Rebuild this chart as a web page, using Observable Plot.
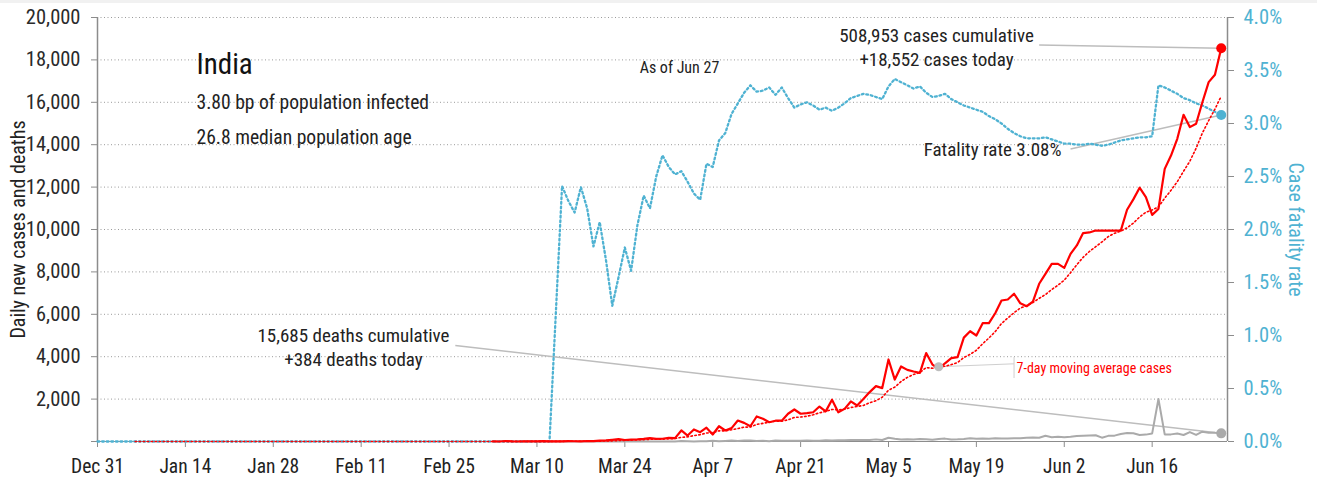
<!DOCTYPE html>
<html>
<head>
<meta charset="utf-8">
<script src="https://cdn.jsdelivr.net/npm/d3@7"></script>
<script src="https://cdn.jsdelivr.net/npm/@observablehq/plot@0.6"></script>
<style>
  body { margin: 0; background: #fff; }
  #strip { height: 3px; background: #f1f1f1; }
  #chart svg { display: block; }
</style>
</head>
<body>
<div id="strip"></div>
<div id="chart"></div>
<script>
// ---- data -------------------------------------------------------------
const startDate = "2019-12-31";
const endDate = "2020-06-28";

const xTickDates = ["2019-12-31", "2020-01-14", "2020-01-28", "2020-02-11", "2020-02-25",
  "2020-03-10", "2020-03-24", "2020-04-07", "2020-04-21", "2020-05-05", "2020-05-19",
  "2020-06-02", "2020-06-16"];
const yTicksLeft = [0, 2000, 4000, 6000, 8000, 10000, 12000, 14000, 16000, 18000, 20000];
const yTicksRight = [0, 0.5, 1.0, 1.5, 2.0, 2.5, 3.0, 3.5, 4.0]; // percent

// daily new cases, one value per day from Dec 31 (null = no report)
const dailyCases = [
  null, null, null, null, null, null, null, null, null, null,
  null, null, null, null, null, null, null, null, null, null,
  null, null, null, null, null, null, null, null, null, null,
  null, null, null, null, null, null, null, null, null, null,
  null, null, null, null, null, null, null, null, null, null,
  null, null, null, null, null, null, null, null, null, null,
  null, null, null, 2, 0, 23, 2, 1, 3, 5,
  4, 13, 6, 11, 9, 20, 11, 6, 23, 14,
  38, 50, 80, 110, 70, 90, 100, 120, 160, 120,
  130, 170, 160, 520, 280, 570, 440, 650, 330, 720,
  520, 630, 990, 880, 720, 1180, 1070, 910, 980, 980,
  1310, 1510, 1310, 1340, 1380, 1650, 1420, 1970, 1380, 1540,
  1890, 1700, 2010, 2330, 2610, 2520, 3870, 2920, 3540, 3380,
  3300, 3240, 4170, 3630, 3430, 3690, 3930, 3980, 4900, 5200,
  5000, 5580, 5580, 6050, 6650, 6700, 6970, 6520, 6380, 6600,
  7440, 7910, 8380, 8380, 8190, 8850, 9250, 9830, 9860, 9950,
  9950, 9950, 9950, 9950, 10930, 11420, 11970, 11530, 10690, 10970,
  12860, 13490, 14280, 15410, 14830, 14990, 16000, 16950, 17300, 18552
];

// daily deaths, same days
const dailyDeaths = [
  null, null, null, null, null, null, null, null, null, null,
  null, null, null, null, null, null, null, null, null, null,
  null, null, null, null, null, null, null, null, null, null,
  null, null, null, null, null, null, null, null, null, null,
  null, null, null, null, null, null, null, null, null, null,
  null, null, null, null, null, null, null, null, null, null,
  null, null, null, null, null, null, null, null, null, null,
  null, null, 1, 0, 1, 0, 0, 0, 1, 0,
  1, 1, 0, 3, 3, 0, 2, 8, 0, 4,
  3, 5, 3, 23, 14, 0, 14, 13, 37, 14,
  28, 48, 20, 42, 43, 27, 35, 12, 43, 38,
  35, 38, 33, 53, 36, 40, 59, 45, 56, 58,
  69, 71, 75, 69, 100, 68, 175, 127, 92, 104,
  96, 116, 111, 82, 121, 136, 98, 104, 118, 154,
  131, 146, 133, 148, 137, 147, 157, 148, 172, 190,
  177, 269, 205, 223, 200, 221, 259, 275, 286, 297,
  180, 266, 277, 352, 396, 386, 311, 325, 380, 2003,
  334, 336, 375, 306, 445, 312, 465, 418, 407, 384
];

// case fatality rate, percent
const fatalityRate = [
  0, 0, 0, 0, 0, 0, 0, 0, 0, 0,
  0, 0, 0, 0, 0, 0, 0, 0, 0, 0,
  0, 0, 0, 0, 0, 0, 0, 0, 0, 0,
  0, 0, 0, 0, 0, 0, 0, 0, 0, 0,
  0, 0, 0, 0, 0, 0, 0, 0, 0, 0,
  0, 0, 0, 0, 0, 0, 0, 0, 0, 0,
  0, 0, 0, 0, 0, 0, 0, 0, 0, 0,
  0, 0, 0, 1.2, 2.41, 2.27, 2.16, 2.40, 2.20, 1.84,
  2.07, 1.71, 1.28, 1.55, 1.83, 1.61, 2.04, 2.32, 2.20, 2.50,
  2.70, 2.59, 2.52, 2.55, 2.45, 2.34, 2.28, 2.62, 2.59, 2.84,
  2.91, 3.09, 3.19, 3.29, 3.36, 3.30, 3.31, 3.34, 3.27, 3.34,
  3.24, 3.15, 3.18, 3.20, 3.17, 3.13, 3.15, 3.12, 3.15, 3.19,
  3.24, 3.26, 3.28, 3.27, 3.25, 3.23, 3.35, 3.42, 3.39, 3.36,
  3.33, 3.35, 3.29, 3.25, 3.26, 3.28, 3.23, 3.20, 3.17, 3.15,
  3.13, 3.11, 3.07, 3.04, 3.00, 2.95, 2.91, 2.88, 2.86, 2.86,
  2.86, 2.87, 2.85, 2.83, 2.81, 2.81, 2.80, 2.80, 2.81, 2.80,
  2.79, 2.80, 2.82, 2.84, 2.85, 2.86, 2.87, 2.87, 2.88, 3.36,
  3.34, 3.31, 3.28, 3.24, 3.22, 3.19, 3.17, 3.14, 3.11, 3.08
];

// ---- annotation anchors (data space) ---------------------------------
const casesNoteStart = {date: "2020-05-29", value: 18700};
const deathsNoteStart = {date: "2020-02-26", value: 4530};
const fatalityNoteStart = {date: "2020-06-03", value: 13800};
const avgNote = {date: "2020-05-13", labelDate: "2020-05-25", labelValue: 3665, tickLow: 2970, tickHigh: 3960};

// ---- styling ------------------------------------------------------------
const red = "#ff0000";
const blue = "#4fb2d2";
const grey = "#aaaaaa";
const axisGrey = "#8c8c8c";
const noteGrey = "#bdbdbd";
const pctToCases = 5000; // 4% on the right spans the same height as 20,000 on the left

const parseDate = d3.utcParse("%Y-%m-%d");
const day0 = parseDate(startDate);

const rows = dailyCases.map((c, i) => ({
  date: d3.utcDay.offset(day0, i),
  cases: c,
  deaths: dailyDeaths[i],
  cfr: fatalityRate[i] * pctToCases
}));
// 7-day trailing mean of new cases
rows.forEach((r, i) => {
  r.avg = i < 6 ? null : d3.mean(rows.slice(i - 6, i + 1), d => d.cases ?? 0);
});
const last = rows[rows.length - 1];
const avgRow = rows.find(r => +r.date === +parseDate(avgNote.date));
const fmt = d3.format(",");

const chart = Plot.plot({
  width: 1317,
  height: 477,
  marginLeft: 97,
  marginRight: 90,
  marginTop: 14,
  marginBottom: 39,
  style: {fontFamily: "'Roboto Condensed', sans-serif", fontSize: "19px", color: "#222", background: "#fff", overflow: "visible"},
  x: {type: "utc", domain: [parseDate(startDate), parseDate(endDate)]},
  y: {domain: [0, 20000]},
  marks: [
    Plot.gridY(yTicksLeft.filter(v => v > 0), {stroke: "#9a9a9a", strokeOpacity: 1, strokeWidth: 1, strokeDasharray: "1,2.5"}),
    Plot.ruleY([0], {stroke: axisGrey, strokeWidth: 1.2}),
    Plot.ruleX([parseDate(startDate)], {stroke: axisGrey, strokeWidth: 1.5}),
    Plot.ruleX([parseDate(endDate)], {stroke: axisGrey, strokeWidth: 1.5}),

    // left axis
    Plot.axisY({ticks: yTicksLeft, tickSize: 6, tickPadding: 11, stroke: axisGrey, fill: "#2a2a2a",
      tickFormat: v => v === 0 ? "" : fmt(v), label: null, fontSize: 20.5}),
    // right axis, fatality rate
    Plot.axisY({anchor: "right", ticks: yTicksRight.map(p => p * pctToCases), tickSize: 6, stroke: axisGrey,
      tickFormat: () => "", label: null}),
    Plot.axisY({anchor: "right", ticks: yTicksRight.map(p => p * pctToCases), tickSize: 0, tickPadding: 16,
      fill: blue, tickFormat: v => (v / pctToCases).toFixed(1) + "%", label: null, fontSize: 20.5}),
    // date axis
    Plot.axisX({ticks: xTickDates.map(parseDate), tickFormat: "%b %-d", tickSize: 6, tickPadding: 12,
      stroke: axisGrey, fill: "#222", label: null, fontSize: 19.5}),

    // axis titles
    Plot.text(["Daily new cases and deaths"], {frameAnchor: "left", dx: -79, rotate: -90, fontSize: 20, fill: "#222", textAnchor: "middle"}),
    Plot.text(["Case fatality rate"], {frameAnchor: "right", dx: 68, rotate: 90, fontSize: 20, fill: blue, textAnchor: "middle"}),

    // annotation leader lines
    Plot.link([last], {x1: () => parseDate(casesNoteStart.date), y1: () => casesNoteStart.value, x2: "date", y2: "cases", stroke: noteGrey, strokeWidth: 1.5}),
    Plot.link([last], {x1: () => parseDate(deathsNoteStart.date), y1: () => deathsNoteStart.value, x2: "date", y2: "deaths", stroke: noteGrey, strokeWidth: 1.5}),
    Plot.link([last], {x1: () => parseDate(fatalityNoteStart.date), y1: () => fatalityNoteStart.value, x2: "date", y2: "cfr", stroke: noteGrey, strokeWidth: 1.5}),
    Plot.link([avgRow], {x1: "date", y1: "avg", x2: () => parseDate(avgNote.labelDate), y2: () => avgNote.labelValue, stroke: "#cfcfcf", strokeWidth: 1}),
    Plot.ruleX([parseDate(avgNote.labelDate)], {y1: avgNote.tickLow, y2: avgNote.tickHigh, stroke: "#cfcfcf", strokeWidth: 1}),

    // series
    Plot.line(rows, {x: "date", y: "cfr", stroke: blue, strokeWidth: 2.3, strokeDasharray: "1.8,2.8"}),
    Plot.line(rows, {x: "date", y: "deaths", stroke: grey, strokeWidth: 2}),
    Plot.line(rows, {x: "date", y: "avg", stroke: red, strokeWidth: 1.6, strokeDasharray: "1.5,2.5"}),
    Plot.line(rows, {x: "date", y: "cases", stroke: red, strokeWidth: 2.2}),

    // end points
    Plot.dot([avgRow], {x: "date", y: "avg", r: 4.5, fill: "#bdbdbd"}),
    Plot.dot([last], {x: "date", y: "cases", r: 5, fill: red}),
    Plot.dot([last], {x: "date", y: "cfr", r: 5, fill: blue}),
    Plot.dot([last], {x: "date", y: "deaths", r: 5, fill: "#aaaaaa"}),

    // notes
    Plot.text(["India"], {frameAnchor: "top-left", dx: 99, dy: 56, lineAnchor: "bottom", textAnchor: "start", fontSize: 29, fill: "#111"}),
    Plot.text(["3.80 bp of population infected"], {frameAnchor: "top-left", dx: 99, dy: 91, lineAnchor: "bottom", textAnchor: "start", fontSize: 19.6, fill: "#222"}),
    Plot.text(["26.8 median population age"], {frameAnchor: "top-left", dx: 99, dy: 126, lineAnchor: "bottom", textAnchor: "start", fontSize: 19.6, fill: "#222"}),
    Plot.text(["As of Jun 27"], {frameAnchor: "top-left", dx: 582, dy: 55, lineAnchor: "bottom", textAnchor: "middle", fontSize: 16, fill: "#222"}),
    Plot.text([`${fmt(508953)} cases cumulative\n+${fmt(last.cases)} cases today`], {frameAnchor: "top-left", dx: 839, dy: 48, lineAnchor: "bottom", textAnchor: "middle", lineHeight: 1.26, fontSize: 19, fill: "#222"}),
    Plot.text([`${fmt(15685)} deaths cumulative\n+${fmt(last.deaths)} deaths today`], {frameAnchor: "top-left", dx: 256, dy: 348, lineAnchor: "bottom", textAnchor: "middle", lineHeight: 1.23, fontSize: 19, fill: "#222"}),
    Plot.text([`Fatality rate ${(last.cfr / pctToCases).toFixed(2)}%`], {frameAnchor: "top-left", dx: 964, dy: 138, lineAnchor: "bottom", textAnchor: "end", fontSize: 19, fill: "#222"}),
    Plot.text(["7-day moving average cases"], {frameAnchor: "top-left", dx: 919, dy: 355, lineAnchor: "bottom", textAnchor: "start", fontSize: 14, fill: red})
  ]
});

document.getElementById("chart").append(chart);
</script>
</body>
</html>
